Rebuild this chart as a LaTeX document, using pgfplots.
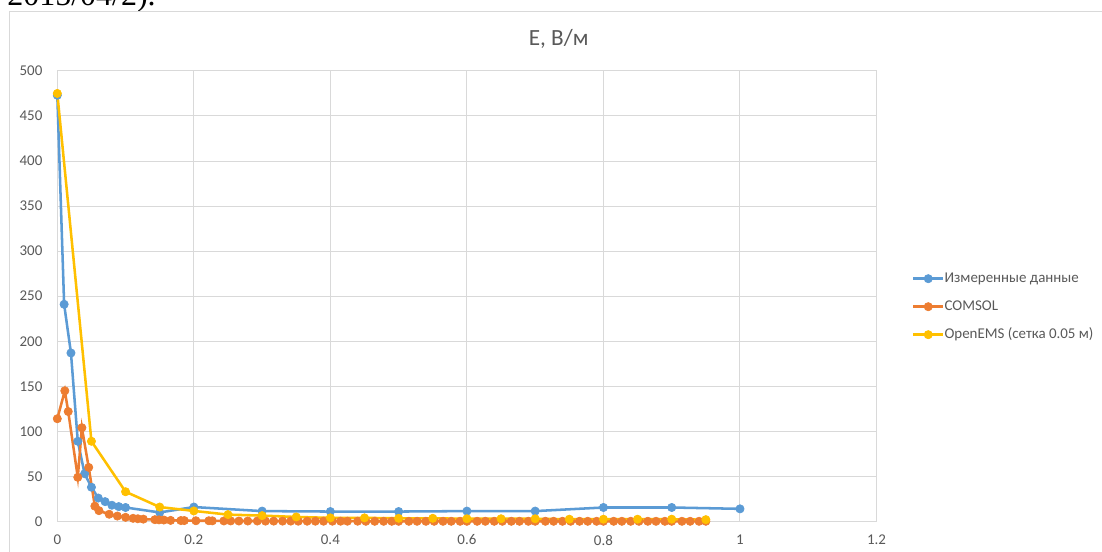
\documentclass[border=0pt]{standalone}
\usepackage{fontspec}
\setmainfont{Carlito}
\newfontfamily\seriffont{Liberation Serif}
\usepackage{pgfplots}
\pgfplotsset{compat=1.18}
\definecolor{cblue}{HTML}{5B9BD5}
\definecolor{corange}{HTML}{ED7D31}
\definecolor{cyellow}{HTML}{FFC000}
\definecolor{cgrid}{HTML}{D9D9D9}
\definecolor{ctext}{HTML}{595959}
\begin{document}
\begin{tikzpicture}
\useasboundingbox (0,0) rectangle (826.5pt,414pt);
\clip (0,0) rectangle (826.5pt,414pt);
\fill[white] (0,0) rectangle (826.5pt,414pt);
\node[anchor=base west, inner sep=0pt, font=\seriffont\fontsize{24}{24}\selectfont] at (5.25pt,409.5pt) {2015/04/2).};
\draw[cgrid, line width=0.75pt] (7pt,-2pt) -- (7pt,405.2pt) -- (830pt,405.2pt);
\node[font=\fontsize{17.4}{20}\selectfont, text=ctext, inner sep=0pt] at (419pt,384.5pt) {E, В/м};
\begin{axis}[
  at={(42.98pt,22.9pt)}, anchor=south west,
  scale only axis, width=614.4pt, height=337.9pt,
  xmin=0, xmax=1.2, ymin=0, ymax=500,
  xtick={0,0.2,0.4,0.6,0.8,1,1.2},
  xticklabels={0,0.2,0.4,0.6,0.8,1,1.2},
  ytick={0,50,100,150,200,250,300,350,400,450,500},
  yticklabels={0,50,100,150,200,250,300,350,400,450,500},
  grid=major, major grid style={cgrid, line width=0.75pt},
  axis line style={draw=none}, major tick length=0pt,
  xticklabel style={anchor=center, yshift=-13.9pt, font=\fontsize{11.2}{13}\selectfont, text=ctext},
  yticklabel style={anchor=east, inner sep=0pt, xshift=-11pt, font=\fontsize{11.2}{13}\selectfont, text=ctext},
  clip=false,
  legend style={at={(1.0433,0.4767)}, anchor=west, draw=none, fill=none,
    inner sep=0pt, outer sep=0pt, row sep=10.5pt,
    font=\fontsize{11.2}{13}\selectfont, text=ctext,
    nodes={inner sep=0pt, text height=8pt, text depth=2.5pt},
    /tikz/every even column/.append style={column sep=4.5pt}},
  legend cell align=left,
  legend image code/.code={\draw[mark repeat=2, mark phase=2] plot coordinates {(0pt,0pt) (11.25pt,0pt) (22.5pt,0pt)};},
  every axis plot/.append style={line width=1.9pt, mark=*, mark size=3.1pt},
]
\addplot[color=cblue, mark options={fill=cblue, draw=cblue, line width=0.5pt}] coordinates {
(0,473) (0.01,241) (0.02,187) (0.03,89) (0.04,53) (0.05,38) (0.06,26) (0.07,22)
(0.08,18) (0.09,16.5) (0.1,15.5) (0.15,10) (0.2,16) (0.3,11.5) (0.4,11) (0.5,11)
(0.6,11.5) (0.7,11.5) (0.8,15.5) (0.9,15.5) (1.0,14)
};
\addlegendentry{Измеренные данные}
\addplot[color=corange, mark options={fill=corange, draw=corange, line width=0.5pt}] coordinates {
(0,114) (0.011,145) (0.016,122) (0.03,49) (0.036,104) (0.046,60) (0.055,17) (0.061,12)
(0.076,8) (0.088,6) (0.1,4.6) (0.111,3.5) (0.118,3) (0.126,2.6) (0.143,2) (0.149,1.8)
(0.156,1.6) (0.166,1.2) (0.181,1) (0.186,1) (0.203,0.8) (0.222,0.8) (0.227,0.7) (0.244,0.6)
(0.254,0.6) (0.266,0.5) (0.279,0.5) (0.293,0.5) (0.305,0.4) (0.317,0.4) (0.33,0.4) (0.342,0.4)
(0.353,0.3) (0.366,0.3) (0.378,0.3) (0.39,0.3) (0.403,0.3) (0.415,0.3) (0.425,0.3) (0.44,0.3)
(0.452,0.2) (0.465,0.2) (0.478,0.2) (0.49,0.2) (0.5,0.2) (0.515,0.2) (0.527,0.2) (0.54,0.2)
(0.552,0.2) (0.565,0.2) (0.577,0.2) (0.59,0.2) (0.6,0.2) (0.615,0.2) (0.627,0.2) (0.64,0.2)
(0.652,0.2) (0.665,0.2) (0.677,0.2) (0.69,0.2) (0.7,0.2) (0.715,0.2) (0.727,0.2) (0.74,0.2)
(0.752,0.2) (0.765,0.2) (0.777,0.2) (0.79,0.2) (0.8,0.2) (0.815,0.2) (0.827,0.2) (0.84,0.2)
(0.852,0.2) (0.865,0.2) (0.877,0.2) (0.89,0.2) (0.9,0.2) (0.915,0.2) (0.927,0.2) (0.94,0.2)
(0.95,0.2)
};
\addlegendentry{COMSOL}
\addplot[color=cyellow, mark options={fill=cyellow, draw=cyellow, line width=0.5pt}] coordinates {
(0,475) (0.05,89) (0.1,33) (0.15,16) (0.2,11.7) (0.25,7.6) (0.3,6.5) (0.35,5) (0.4,4)
(0.45,4) (0.5,3.5) (0.55,3.5) (0.6,3) (0.65,3) (0.7,3) (0.75,2.5) (0.8,2.5) (0.85,2.5)
(0.9,2.5) (0.95,2)
};
\addlegendentry{OpenEMS (сетка 0.05 м)}
\end{axis}
\end{tikzpicture}
\end{document}
